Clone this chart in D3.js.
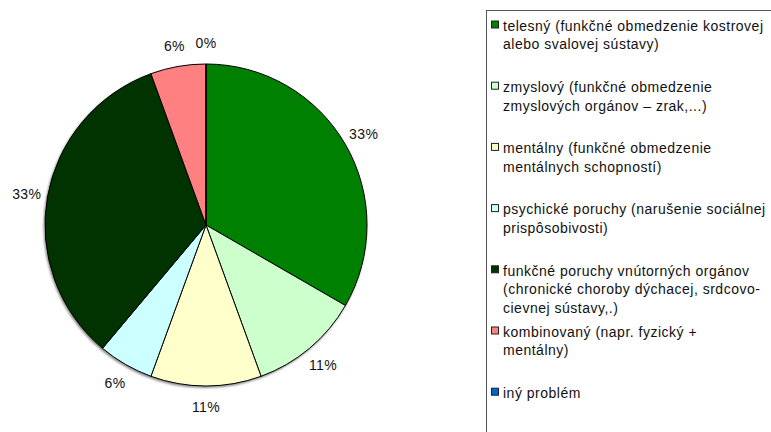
<!DOCTYPE html>
<html>
<head>
<meta charset="utf-8">
<script src="https://cdn.jsdelivr.net/npm/d3@7"></script>
<style>
  html, body { margin: 0; padding: 0; background: #fff; }
  svg { display: block; font-family: "Liberation Sans", Arial, sans-serif; }
</style>
</head>
<body>
<svg id="chart" width="771" height="432"></svg>
<script>
// Legend labels (one entry per category, already split into lines)
const categories = [
  ["telesný (funkčné obmedzenie kostrovej", "alebo svalovej sústavy)"],
  ["zmyslový (funkčné obmedzenie", "zmyslových orgánov – zrak,...)"],
  ["mentálny (funkčné obmedzenie", "mentálnych schopností)"],
  ["psychické poruchy (narušenie sociálnej", "prispôsobivosti)"],
  ["funkčné poruchy vnútorných orgánov", "(chronické choroby dýchacej, srdcovo-", "cievnej sústavy,.)"],
  ["kombinovaný (napr. fyzický +", "mentálny)"],
  ["iný problém"]
];
// Number of respondents in each category
const counts = [6, 2, 2, 1, 6, 1, 0];
const colors = ["#008000", "#ccffcc", "#ffffcc", "#ccffff", "#003300", "#ff8080", "#0066cc"];

const svg = d3.select("#chart");
const total = d3.sum(counts);
const pct = d3.format(".0%");

const cx = 206, cy = 225, R = 161;

// soft shadow under the pie
const defs = svg.append("defs");
const f = defs.append("filter").attr("id", "shadow").attr("x", "-10%").attr("y", "-10%").attr("width", "120%").attr("height", "120%");
f.append("feGaussianBlur").attr("stdDeviation", 1.2);

const g = svg.append("g").attr("transform", `translate(${cx},${cy})`);
g.append("circle").attr("cx", -1).attr("cy", 1.5).attr("r", R + 0.5)
  .attr("fill", "#8a8a8a").attr("filter", "url(#shadow)");

const pie = d3.pie().sort(null).value(d => d);
const arcs = pie(counts);
const arc = d3.arc().innerRadius(0).outerRadius(R);
const labelArc = d3.arc().innerRadius(182).outerRadius(182);

g.selectAll("path.slice").data(arcs).join("path")
  .attr("class", "slice")
  .attr("d", arc)
  .attr("fill", (d, i) => colors[i])
  .attr("stroke", "#000")
  .attr("stroke-width", 1)
  .attr("stroke-linejoin", "round");

g.selectAll("text.pct").data(arcs).join("text")
  .attr("class", "pct")
  .attr("transform", d => `translate(${labelArc.centroid(d)})`)
  .attr("text-anchor", "middle")
  .attr("dy", "0.38em")
  .attr("font-size", 14)
  .attr("letter-spacing", 0.4)
  .attr("fill", "#111")
  .text(d => pct(d.data / total));

// Legend
svg.append("rect")
  .attr("x", 486.5).attr("y", 10.5)
  .attr("width", 300).attr("height", 440)
  .attr("fill", "#fff").attr("stroke", "#555").attr("stroke-width", 1);

const yItem = d3.scaleLinear().domain([0, 1]).range([25.5, 86.7]);
const lineH = 18.5;

const items = svg.selectAll("g.item").data(categories).join("g")
  .attr("class", "item")
  .attr("transform", (d, i) => `translate(0,${yItem(i)})`);

items.append("rect")
  .attr("x", 491.5).attr("y", -4.5)
  .attr("width", 7).attr("height", 7)
  .attr("fill", (d, i) => colors[i])
  .attr("stroke", "#222").attr("stroke-width", 1);

items.each(function(lines) {
  const t = d3.select(this).append("text")
    .attr("x", 503).attr("y", 0)
    .attr("font-size", 14)
    .attr("letter-spacing", 0.5)
    .attr("fill", "#111");
  t.selectAll("tspan").data(lines).join("tspan")
    .attr("x", 503)
    .attr("y", (l, j) => j * lineH)
    .attr("dy", "0.38em")
    .text(l => l);
});
</script>
</body>
</html>
